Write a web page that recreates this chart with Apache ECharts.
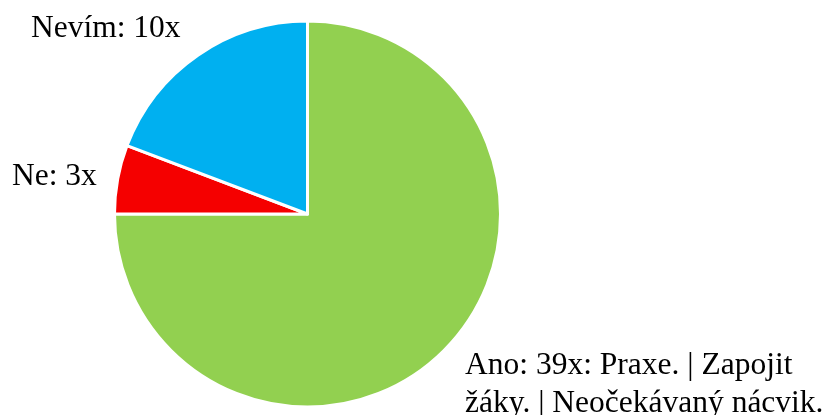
<!DOCTYPE html>
<html>
<head>
<meta charset="utf-8">
<script src="https://cdn.jsdelivr.net/npm/echarts@6/dist/echarts.min.js"></script>
<style>
  html, body { margin: 0; padding: 0; background: #fff; }
  #chart { width: 829px; height: 415px; }
</style>
</head>
<body>
<div id="chart"></div>
<script>
// odpovědi (pořadí jako v grafu, po směru hodinových ručiček od 12 h)
const categories = ['Ano', 'Ne', 'Nevím'];
const counts = [39, 3, 10];
const labelTexts = [
  'Ano: 39x: Praxe. | Zapojit\nžáky. | Neočekávaný nácvik.',
  'Ne: 3x',
  'Nevím: 10x'
];
const colors = ['#92D050', '#F50000', '#00B0F0'];

// umístění popisků (jako v původním grafu)
const labelSpots = [
  { x: 465, y: 385 },
  { x: 12, y: 177 },
  { x: 31, y: 29 }
];

const chart = echarts.init(document.getElementById('chart'));

const option = {
  backgroundColor: '#ffffff',
  animation: false,
  series: [
    {
      type: 'pie',
      center: [307.5, 214],
      radius: [0, 193],
      startAngle: 90,
      clockwise: true,
      data: categories.map((name, i) => ({
        name: name,
        value: counts[i],
        itemStyle: { color: colors[i] },
        label: { formatter: labelTexts[i] }
      })),
      itemStyle: {
        borderColor: '#ffffff',
        borderWidth: 3
      },
      label: {
        show: true,
        position: 'outside',
        alignTo: 'none',
        overflow: 'none',
        fontFamily: 'Liberation Serif',
        fontSize: 31.5,
        lineHeight: 38,
        color: '#000000',
        align: 'left'
      },
      labelLine: { show: false },
      labelLayout: function (params) {
        const spot = labelSpots[params.dataIndex];
        return {
          x: spot.x,
          y: spot.y,
          align: 'left',
          verticalAlign: 'middle'
        };
      }
    }
  ]
};

chart.setOption(option);
</script>
</body>
</html>
